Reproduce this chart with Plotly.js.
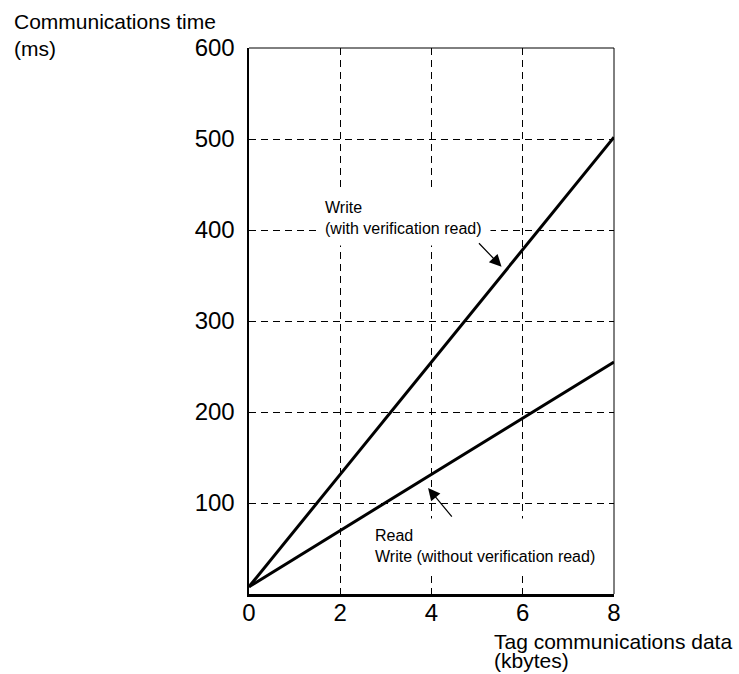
<!DOCTYPE html>
<html>
<head>
<meta charset="utf-8">
<script src="https://cdn.plot.ly/plotly-3.0.1.min.js"></script>
<style>html,body{margin:0;padding:0;background:#fff;}#chart{width:739px;height:674px;}</style>
</head>
<body>
<div id="chart"></div>
<script>
// Data
const kbytes = [0, 8];
const writeWithVerify = [8, 502];
const readOrWriteNoVerify = [8, 255];
const xTickVals = [0, 2, 4, 6, 8];
const xTickText = ['0', '2', '4', '6', '8'];
const yTickVals = [100, 200, 300, 400, 500, 600];
const yTickText = ['100', '200', '300', '400', '500', '600'];
const yTitleLines = ['Communications time', '(ms)'];
const xTitleLines = ['Tag communications data', '(kbytes)'];
const labelWrite = 'Write<br>(with verification read)';
const labelRead = 'Read<br>Write (without verification read)';

const FONT = 'Liberation Sans, Arial, Helvetica, sans-serif';

const traces = [
  {x: kbytes, y: writeWithVerify, mode: 'lines', line: {color: '#000', width: 3}, hoverinfo: 'skip', showlegend: false},
  {x: kbytes, y: readOrWriteNoVerify, mode: 'lines', line: {color: '#000', width: 3}, hoverinfo: 'skip', showlegend: false}
];

const layout = {
  width: 739, height: 674,
  margin: {l: 249, r: 125, t: 48, b: 80},
  paper_bgcolor: '#fff', plot_bgcolor: '#fff',
  font: {family: FONT, color: '#000'},
  showlegend: false,
  xaxis: {
    range: [0, 8], tickvals: xTickVals, ticktext: xTickText,
    showgrid: true, gridcolor: '#000', gridwidth: 1, griddash: '7px,5px',
    zeroline: false, showline: true, linecolor: '#000', linewidth: 2.5,
    ticks: '', ticklabelstandoff: -4, tickfont: {size: 24, family: FONT, color: '#000'},
    fixedrange: true
  },
  yaxis: {
    range: [0, 600], tickvals: yTickVals, ticktext: yTickText,
    showgrid: true, gridcolor: '#000', gridwidth: 1, griddash: '7px,5px',
    zeroline: false, showline: true, linecolor: '#000', linewidth: 2.5,
    ticks: '', ticklabelstandoff: 7, tickfont: {size: 24, family: FONT, color: '#000'},
    fixedrange: true
  },
  shapes: [
    {type: 'line', xref: 'paper', yref: 'paper', x0: 0, x1: 1, y0: 1, y1: 1, line: {color: '#000', width: 1}},
    {type: 'line', xref: 'paper', yref: 'paper', x0: 1, x1: 1, y0: 0, y1: 1, line: {color: '#000', width: 1}}
  ],
  annotations: [
    {xref: 'x', yref: 'y', x: 3.38, y: 413, text: labelWrite, showarrow: false, align: 'left',
     bgcolor: '#fff', borderpad: 8, font: {size: 16, family: FONT, color: '#000'}},
    {xref: 'x', yref: 'y', x: 5.17, y: 53, text: labelRead, showarrow: false, align: 'left',
     bgcolor: '#fff', borderpad: 8, font: {size: 16, family: FONT, color: '#000'}},
    {xref: 'x', yref: 'y', x: 5.535, y: 359.6, ax: -24, ay: -25, text: '', showarrow: true,
     arrowhead: 2, arrowsize: 2, arrowwidth: 1.2, arrowcolor: '#000'},
    {xref: 'x', yref: 'y', x: 3.925, y: 116.4, ax: 25, ay: 30, text: '', showarrow: true,
     arrowhead: 2, arrowsize: 2, arrowwidth: 1.2, arrowcolor: '#000'},
    {xref: 'paper', yref: 'paper', x: -0.6493, y: 1.0487, xanchor: 'left', yanchor: 'middle', text: yTitleLines[0], showarrow: false,
     font: {size: 21, family: FONT, color: '#000'}},
    {xref: 'paper', yref: 'paper', x: -0.6493, y: 0.9987, xanchor: 'left', yanchor: 'middle', text: yTitleLines[1], showarrow: false,
     font: {size: 21, family: FONT, color: '#000'}},
    {xref: 'paper', yref: 'paper', x: 0.6655, y: -0.0868, xanchor: 'left', yanchor: 'middle', text: xTitleLines[0], showarrow: false,
     font: {size: 21, family: FONT, color: '#000'}},
    {xref: 'paper', yref: 'paper', x: 0.6655, y: -0.1221, xanchor: 'left', yanchor: 'middle', text: xTitleLines[1], showarrow: false,
     font: {size: 21, family: FONT, color: '#000'}}
  ]
};

Plotly.newPlot('chart', traces, layout, {displayModeBar: false, staticPlot: true});
</script>
</body>
</html>
